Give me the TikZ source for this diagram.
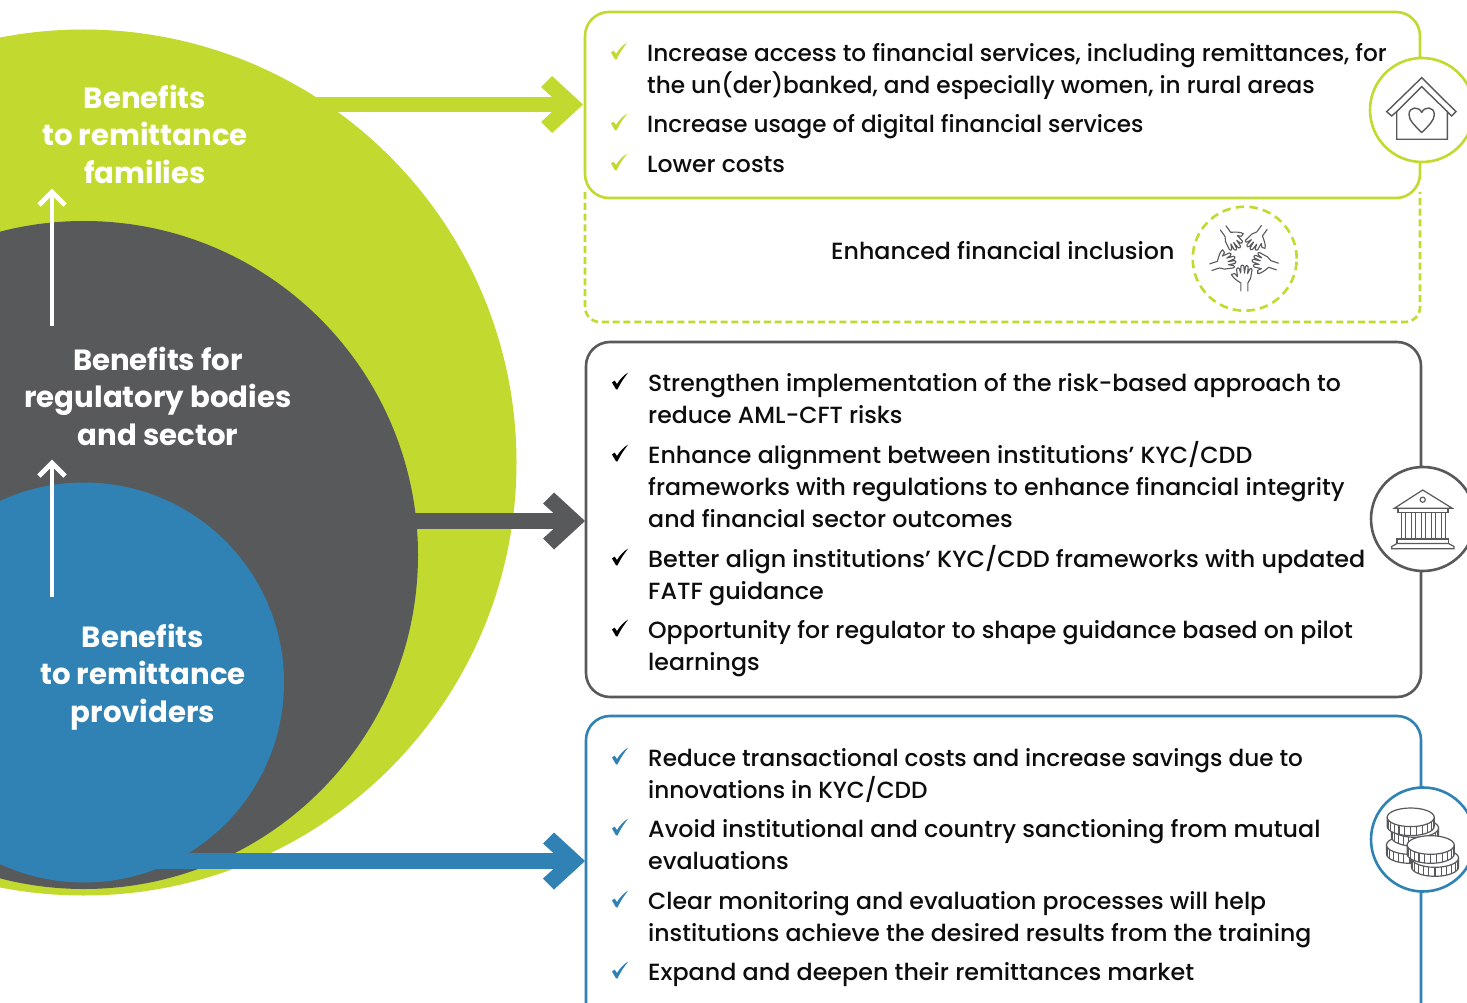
\documentclass[tikz,border=0pt]{standalone}
\usepackage{fontspec}
\setmainfont{Poppins}[UprightFont=* Medium,BoldFont=* Bold]
\usetikzlibrary{arrows.meta,calc}
\definecolor{lime}{HTML}{C2DA2F}
\definecolor{slate}{HTML}{58595B}
\definecolor{sea}{HTML}{2F82B3}
\tikzset{
  x=1pt,y=-1pt,
  panel/.style={draw=#1,line width=2.6pt,fill=white,rounded corners=24pt},
  iconring/.style={draw=#1,line width=2.6pt,fill=white,circle,minimum size=104pt,inner sep=0pt},
  big/.style={text=white,font=\fontsize{29.2}{37.4}\selectfont\bfseries,align=center,inner sep=0pt,anchor=north},
  item/.style={font=\fontsize{23.4}{32}\selectfont\addfontfeature{FakeStretch=#1},text=black!95,align=left,inner sep=0pt,anchor=north west},
  icon/.style={draw=slate,line width=1.2pt,fill=white,line join=miter},
  shaft/.style={draw=#1,line width=15.5pt},
  up/.style={draw=white,line width=4.8pt},
  pics/tick/.style={code={\fill[#1] (1,10.5) -- (3.6,8.6) -- (6,12) .. controls (9,7) and (13,3) .. (17.2,.5) .. controls (13,6) and (10,10) .. (6.6,17.3) -- (5,17.3) -- cycle;}},
  pics/chev/.style={code={\fill[#1] (0,0) -- (-31,-28.5) -- (-42,-17.5) -- (-31,-7.5) -- (-31,7.5) -- (-42,17.5) -- (-31,28.5) -- cycle;}},
  pics/coin/.style={code={
    \path[icon] (-23.5,0) -- (-23.5,9) arc[start angle=180,end angle=360,x radius=23.5,y radius=-9.3] -- (23.5,0) -- cycle;
    \foreach \a in {195,210,...,345}{\draw[draw=slate,line width=1.1pt] ({23.5*cos(\a)},{-9.3*sin(\a)}) -- ++(0,9);}
    \path[icon] (0,0) ellipse[x radius=23.5,y radius=9.3];}},
  pics/hand/.style={code={
    \draw[xscale=1.2,draw=slate,line width=1.1pt,line cap=round,line join=round,fill=white]
      (-2.6,35) -- (-2.6,27) .. controls (-6,24.5) and (-9.5,21.5) .. (-10.5,18.5) -- (-7.8,17.5) -- (-5.5,20.5)
      -- (-6.2,13) .. controls (-6,11.3) and (-4.2,11.3) .. (-3.8,12.8) -- (-2.8,17)
      -- (-2.5,10) .. controls (-2.2,8.6) and (-.5,8.6) .. (-.2,10) -- (.4,17)
      -- (1.2,10.5) .. controls (1.5,9) and (3.3,9) .. (3.5,10.8) -- (3,17.5)
      -- (4.8,13) .. controls (5.5,11.8) and (6.9,12.2) .. (6.7,13.8) -- (5.4,22.5) -- (3.2,27) -- (3.2,35);}},
}
\begin{document}
\begin{tikzpicture}
\useasboundingbox (0,0) rectangle (1467,1003);
\clip (0,0) rectangle (1467,1003);
\fill[white] (0,0) rectangle (1467,1003);

% named anchors
\coordinate (limeStart) at (300,104.5);
\coordinate (limeTip) at (583,104.5);
\coordinate (slateStart) at (400,521);
\coordinate (slateTip) at (585,521);
\coordinate (seaStart) at (150,861);
\coordinate (seaTip) at (585,861);

% circles
\node[circle,fill=lime,minimum size=866pt,inner sep=0pt] (outer) at (83.5,462.5) {};
\draw[shaft=lime] (limeStart) -- ($(limeTip)+(-20,0)$);
\pic at (limeTip) {chev=lime};
\node[circle,fill=slate,minimum size=668pt,inner sep=0pt] (mid) at (84,555) {};
\draw[shaft=slate] (slateStart) -- ($(slateTip)+(-20,0)$);
\pic at (slateTip) {chev=slate};
\draw[shaft=sea] (seaStart) -- ($(seaTip)+(-20,0)$);
\pic at (seaTip) {chev=sea};
\node[circle,fill=sea,minimum size=400pt,inner sep=0pt] (inner) at (84,682.5) {};

% white arrows
\coordinate (upA0) at (52,326); \coordinate (upA1) at (52,192);
\coordinate (upB0) at (52,597); \coordinate (upB1) at (52,463);
\draw[up] (upA0) -- (upA1);
\draw[up,line join=miter] ($(upA1)+(-13,13)$) -- (upA1) -- ($(upA1)+(13,13)$);
\draw[up] (upB0) -- (upB1);
\draw[up,line join=miter] ($(upB1)+(-13,13)$) -- (upB1) -- ($(upB1)+(13,13)$);

% left titles
\node[big] (t1) at (145,85) {Benefits\\to remittance\\families};
\node[big] (t2) at (158,347) {Benefits for\\regulatory bodies\\and sector};
\node[big] (t3) at (143,624) {Benefits\\to remittance\\providers};

% dashed panel
\draw[draw=lime,line width=2.6pt,dash pattern=on 7pt off 3.8pt,rounded corners=15pt]
  (585,192) -- (585,322) -- (1420,322) -- (1420,192);
\node[iconring=lime,dash pattern=on 8.5pt off 5.2pt,minimum size=104pt,fill=none] (ringHands) at (1244.7,258.7) {};

% panels
\draw[panel=lime] (585,12) rectangle (1420,198);
\draw[panel=slate] (586,342) rectangle (1421,697);
\draw[panel=sea] (586,716) rectangle (1421,1060);

\node[iconring=lime] (ringHouse) at (1422,110) {};
\node[iconring=slate] (ringBank) at (1423,519) {};
\node[iconring=sea] (ringCoins) at (1423,839.5) {};

% house
\path[icon,line width=1.4pt] (1421.7,77.7) -- (1456,111.7) -- (1451.7,116) -- (1447.3,111.6) -- (1447.3,139.3) -- (1396.7,139.3) -- (1396.7,111.6) -- (1391.7,116) -- (1386.7,111.7) -- cycle;
\draw[draw=slate,line width=1.4pt] (1396.7,111.6) -- (1421.7,86.7) -- (1447.3,111.6);
\draw[draw=slate,line width=1.4pt,line join=round] (1421.7,132.5) .. controls (1414,125) and (1409,120) .. (1409,114.5) .. controls (1409,106.5) and (1419,106) .. (1421.7,112.5) .. controls (1424.5,106) and (1434.3,106.5) .. (1434.3,114.5) .. controls (1434.3,120) and (1429.5,125) .. (1421.7,132.5) -- cycle;

% hands
\foreach \r in {0,72,144,216,288}{\pic[rotate=\r] at (1244,256) {hand};}

% bank
\path[icon] (1422.7,490) -- (1452.3,508.3) -- (1394.3,508.3) -- cycle;
\draw[draw=slate,line width=1.1pt] (1422.7,499.7) circle[radius=2.6];
\path[icon] (1398,508.3) rectangle (1448,512.5);
\foreach \x in {1401,1411,1421,1431,1441}{\path[icon,line width=1pt] (\x,512.5) rectangle ++(4.6,26.5);}
\path[icon] (1397,539) rectangle (1448.5,543.5);
\path[icon] (1391.7,546.5) -- (1397,543.5) -- (1448.5,543.5) -- (1454,546.5) -- (1454,548.7) -- (1391.7,548.7) -- cycle;

% coins
\pic at (1410,845) {coin};
\pic at (1415,828) {coin};
\pic at (1410.7,817.3) {coin};
\pic at (1435,858) {coin};
\pic at (1430.7,845) {coin};

% ticks
\foreach \x/\y/\c in {610/42/lime,610/113/lime,610/153/lime,
  611/372/black,611/444/black,611/548/black,611/619/black,
  611/747/sea,611/818/sea,611/890/sea,611/961/sea}
  {\pic at (\x,\y) {tick=\c};}

% items
\node[item=0.992] (a1) at (647,43) {Increase access to financial services, including remittances, for\\the un(der)banked, and especially women, in rural areas};
\node[item=0.988] (a2) at (647,114) {Increase usage of digital financial services};
\node[item=1.007] (a3) at (647,156) {Lower costs};
\node[item=1.015] (inc) at (831,241) {Enhanced financial inclusion};
\node[item=1.007] (b1) at (648,373) {Strengthen implementation of the risk-based approach to\\reduce AML-CFT risks};
\node[item=1.012] (b2) at (648,441) {Enhance alignment between institutions’ KYC/CDD\\frameworks with regulations to enhance financial integrity\\and financial sector outcomes};
\node[item=1.02] (b3) at (648,545) {Better align institutions’ KYC/CDD frameworks with updated\\FATF guidance};
\node[item=1.01] (b4) at (648,620) {Opportunity for regulator to shape guidance based on pilot\\learnings};
\node[item=0.99] (c1) at (648,748) {Reduce transactional costs and increase savings due to\\innovations in KYC/CDD};
\node[item=1.016] (c2) at (648,819) {Avoid institutional and country sanctioning from mutual\\evaluations};
\node[item=1.008] (c3) at (648,891) {Clear monitoring and evaluation processes will help\\institutions achieve the desired results from the training};
\node[item=1.018] (c4) at (648,962) {Expand and deepen their remittances market};
\end{tikzpicture}
\end{document}
